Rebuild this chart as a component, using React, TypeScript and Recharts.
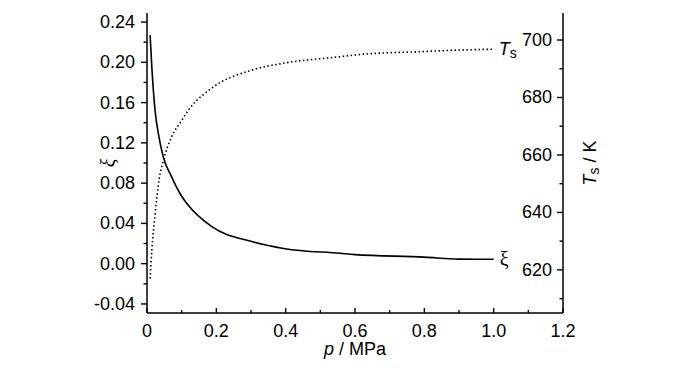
import { LineChart, Line, XAxis, YAxis } from 'recharts';

// pressure p / MPa
const pressure = [0.009, 0.014, 0.023, 0.035, 0.047, 0.07, 0.1, 0.119, 0.186, 0.302, 0.398, 0.557, 0.6, 0.8, 0.9, 1.0];
// conversion xi (left axis)
const xiValues = [0.227, 0.195, 0.153, 0.125, 0.106, 0.087, 0.067, 0.058, 0.037, 0.022, 0.0149, 0.0103, 0.009, 0.0065, 0.0045, 0.0044];
// surface temperature Ts / K (right axis)
const tsValues = [617, 627, 639, 651.5, 658, 666, 672, 675.5, 683.2, 689.5, 692, 694.2, 694.8, 696, 696.5, 696.8];

const pMajor = [0, 0.2, 0.4, 0.6, 0.8, 1.0, 1.2];
const pMinor = [0.1, 0.3, 0.5, 0.7, 0.9, 1.1];
const xiMajor = [-0.04, 0.0, 0.04, 0.08, 0.12, 0.16, 0.2, 0.24];
const xiMinor = [-0.02, 0.02, 0.06, 0.1, 0.14, 0.18, 0.22];
const tsMajor = [620, 640, 660, 680, 700];
const tsMinor = [610, 630, 650, 670, 690];

const data = pressure.map((p, i) => ({ p, xi: xiValues[i], ts: tsValues[i] }));
const last = data.length - 1;

const font = { fontFamily: '"Liberation Sans", Arial, sans-serif', fontSize: 18, fill: '#000' };

const BottomTick = ({ x, y, payload }: any) => {
  const major = pMajor.includes(payload.value);
  return (
    <g>
      <line x1={x} x2={x} y1={y} y2={y - (major ? 5 : 3)} stroke="#000" strokeWidth={1.4} />
      {major && (
        <text x={x} y={y + 24} textAnchor="middle" {...font}>
          {payload.value === 0 ? '0' : payload.value.toFixed(1)}
        </text>
      )}
    </g>
  );
};

const LeftTick = ({ x, y, payload }: any) => {
  const major = xiMajor.includes(payload.value);
  return (
    <g>
      <line x1={x} x2={x - (major ? 6 : 3.5)} y1={y} y2={y} stroke="#000" strokeWidth={1.4} />
      {major && (
        <text x={x - 12} y={y} textAnchor="end" dominantBaseline="central" {...font}>
          {payload.value.toFixed(2)}
        </text>
      )}
    </g>
  );
};

const RightTick = ({ x, y, payload }: any) => {
  const major = tsMajor.includes(payload.value);
  return (
    <g>
      <line x1={x} x2={x - (major ? 6 : 3.5)} y1={y} y2={y} stroke="#000" strokeWidth={1.4} />
      {major && (
        <text x={x - 11} y={y} textAnchor="end" dominantBaseline="central" {...font}>
          {payload.value}
        </text>
      )}
    </g>
  );
};

const EndLabel = (text: 'xi' | 'ts') => (props: any) => {
  const { x, y, index } = props;
  if (index !== last) return <g />;
  if (text === 'xi') {
    return (
      <text x={x + 6} y={y} dominantBaseline="central" fontFamily='"Liberation Serif", serif' fontSize={20} fill="#000">
        ξ
      </text>
    );
  }
  return (
    <text x={x + 5} y={y} dominantBaseline="central" {...font}>
      <tspan fontStyle="italic">T</tspan>
      <tspan fontSize={14} dy={4}>s</tspan>
    </text>
  );
};

export default function App() {
  return (
    <div style={{ position: 'absolute', left: 0, top: 0, background: '#fff' }}>
      <LineChart width={700} height={373} data={data} margin={{ top: 13, right: 0, bottom: 0, left: 0 }}>
        <XAxis
          dataKey="p"
          type="number"
          domain={[0, 1.2]}
          ticks={[...pMajor, ...pMinor]}
          interval={0}
          tickSize={0}
          tickMargin={0}
          tickLine={false}
          tick={<BottomTick />}
          height={60}
          stroke="#000"
          strokeWidth={1.5}
          label={{
            content: ({ viewBox }: any) => (
              <text x={viewBox.x + viewBox.width / 2} y={355} textAnchor="middle" {...font}>
                <tspan fontStyle="italic">p</tspan> / MPa
              </text>
            ),
          }}
        />
        <YAxis
          yAxisId="xi"
          type="number"
          domain={[-0.049, 0.249]}
          allowDataOverflow
          ticks={[...xiMajor, ...xiMinor]}
          interval={0}
          tickSize={0}
          tickMargin={0}
          tickLine={false}
          tick={<LeftTick />}
          width={147}
          stroke="#000"
          strokeWidth={1.5}
          label={{
            content: ({ viewBox }: any) => (
              <text
                x={108}
                y={viewBox.y + viewBox.height / 2}
                textAnchor="middle"
                dominantBaseline="central"
                transform={`rotate(-90 108 ${viewBox.y + viewBox.height / 2})`}
                fontFamily='"Liberation Serif", serif'
                fontStyle="italic"
                fontSize={20}
                fill="#000"
              >
                ξ
              </text>
            ),
          }}
        />
        <YAxis
          yAxisId="ts"
          orientation="right"
          type="number"
          domain={[605, 709.4]}
          allowDataOverflow
          ticks={[...tsMajor, ...tsMinor]}
          interval={0}
          tickSize={0}
          tickMargin={0}
          tickLine={false}
          tick={<RightTick />}
          width={137}
          stroke="#000"
          strokeWidth={1.5}
          label={{
            content: ({ viewBox }: any) => {
              const cy = viewBox.y + viewBox.height / 2;
              return (
                <text
                  x={590}
                  y={cy}
                  textAnchor="middle"
                  dominantBaseline="central"
                  transform={`rotate(-90 590 ${cy})`}
                  {...font}
                >
                  <tspan fontStyle="italic">T</tspan>
                  <tspan fontSize={14} dy={4}>s</tspan>
                  <tspan dy={-4}> / K</tspan>
                </text>
              );
            },
          }}
        />
        <Line
          yAxisId="xi"
          dataKey="xi"
          type="monotone"
          stroke="#000"
          strokeWidth={1.6}
          dot={false}
          isAnimationActive={false}
          label={EndLabel('xi')}
        />
        <Line
          yAxisId="ts"
          dataKey="ts"
          type="monotone"
          stroke="#000"
          strokeWidth={1.6}
          strokeDasharray="1.5 2.5"
          dot={false}
          isAnimationActive={false}
          label={EndLabel('ts')}
        />
      </LineChart>
    </div>
  );
}
